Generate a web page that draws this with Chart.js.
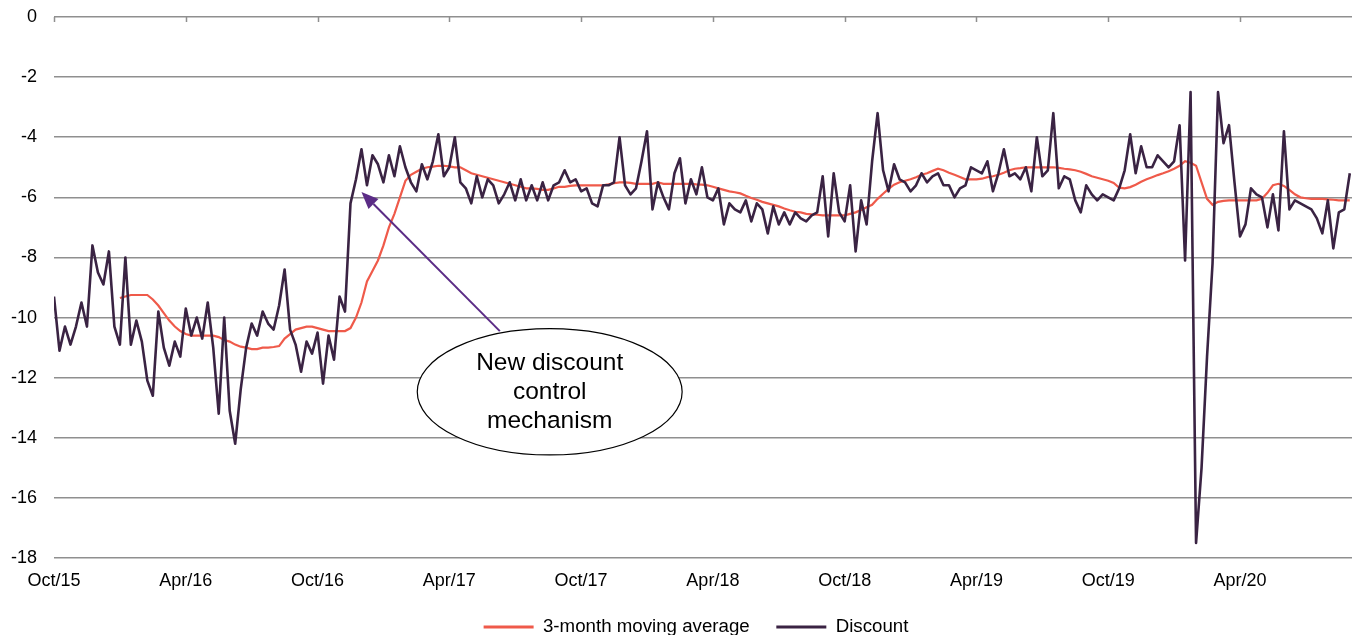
<!DOCTYPE html>
<html>
<head>
<meta charset="utf-8">
<script src="https://cdn.jsdelivr.net/npm/chart.js@4.4.0/dist/chart.umd.min.js"></script>
<style>
  html, body { margin: 0; padding: 0; background: #fff; overflow: hidden; }
  #wrap { width: 1353px; height: 650px; }
</style>
</head>
<body>
<div id="wrap"><canvas id="chart" width="1353" height="650"></canvas></div>
<script>
// tick labels every 6 months, starting Oct/15
const tickLabels = ["Oct/15", "Apr/16", "Oct/16", "Apr/17", "Oct/17", "Apr/18", "Oct/18", "Apr/19", "Oct/19", "Apr/20"];

// discount (%), roughly weekly readings, 4 per month from Oct 2015
const discount = [
  -9.3, -11.1, -10.3, -10.9,
  -10.3, -9.5, -10.3, -7.6,
  -8.5, -8.9, -7.8, -10.3,
  -10.9, -8.0, -10.9, -10.1,
  -10.8, -12.1, -12.6, -9.8,
  -11.0, -11.6, -10.8, -11.3,
  -9.7, -10.6, -10.0, -10.7,
  -9.5, -11.0, -13.2, -10.0,
  -13.1, -14.2, -12.4, -11.0,
  -10.2, -10.6, -9.8, -10.2,
  -10.4, -9.6, -8.4, -10.4,
  -10.9, -11.8, -10.8, -11.2,
  -10.5, -12.2, -10.6, -11.4,
  -9.3, -9.8, -6.2, -5.4,
  -4.4, -5.6, -4.6, -4.9,
  -5.5, -4.6, -5.3, -4.3,
  -5.0, -5.5, -5.8, -4.9,
  -5.4, -4.8, -3.9, -5.3,
  -5.0, -4.0, -5.5, -5.7,
  -6.2, -5.3, -6.0, -5.4,
  -5.6, -6.2, -5.9, -5.5,
  -6.1, -5.4, -6.1, -5.6,
  -6.1, -5.5, -6.1, -5.6,
  -5.5, -5.1, -5.5, -5.4,
  -5.8, -5.7, -6.2, -6.3,
  -5.6, -5.6, -5.5, -4.0,
  -5.6, -5.9, -5.7, -4.8,
  -3.8, -6.4, -5.5, -6.0,
  -6.4, -5.2, -4.7, -6.2,
  -5.4, -5.9, -5.0, -6.0,
  -6.1, -5.7, -6.9, -6.2,
  -6.4, -6.5, -6.1, -6.8,
  -6.2, -6.4, -7.2, -6.3,
  -6.9, -6.5, -6.9, -6.5,
  -6.7, -6.8, -6.6, -6.5,
  -5.3, -7.3, -5.2, -6.5,
  -6.8, -5.6, -7.8, -6.1,
  -6.9, -4.8, -3.2, -5.1,
  -5.8, -4.9, -5.4, -5.5,
  -5.8, -5.6, -5.2, -5.5,
  -5.3, -5.2, -5.6, -5.6,
  -6.0, -5.7, -5.6, -5.0,
  -5.1, -5.2, -4.8, -5.8,
  -5.2, -4.4, -5.3, -5.2,
  -5.4, -5.0, -5.8, -4.0,
  -5.3, -5.1, -3.2, -5.7,
  -5.3, -5.4, -6.1, -6.5,
  -5.6, -5.9, -6.1, -5.9,
  -6.0, -6.1, -5.7, -5.1,
  -3.9, -5.2, -4.3, -5.0,
  -5.0, -4.6, -4.8, -5.0,
  -4.8, -3.6, -8.1, -2.5,
  -17.5, -15.0, -11.3, -8.2,
  -2.5, -4.2, -3.6, -5.5,
  -7.3, -6.9, -5.7, -5.9,
  -6.0, -7.0, -5.9, -7.1,
  -3.8, -6.4, -6.1, -6.2,
  -6.3, -6.4, -6.7, -7.2,
  -6.1, -7.7, -6.5, -6.4,
  -5.2
];

// 3-month moving average, same sampling (starts after the first 3 months)
const movingAvg = [
  null, null, null, null,
  null, null, null, null,
  null, null, null, null,
  -9.35, -9.3, -9.25, -9.25,
  -9.25, -9.25, -9.4, -9.6,
  -9.85, -10.1, -10.3, -10.45,
  -10.55, -10.6, -10.6, -10.6,
  -10.6, -10.6, -10.65, -10.75,
  -10.8, -10.9, -10.97, -11.0,
  -11.05, -11.05, -11.0, -11.0,
  -10.98, -10.95, -10.7, -10.55,
  -10.4, -10.35, -10.3, -10.3,
  -10.35, -10.4, -10.45, -10.45,
  -10.45, -10.45, -10.35, -10.0,
  -9.5, -8.8, -8.45, -8.1,
  -7.6, -7.0, -6.55, -6.0,
  -5.45, -5.25, -5.15, -5.05,
  -5.0, -4.98, -4.95, -4.95,
  -4.97, -5.0, -5.0, -5.1,
  -5.2, -5.25, -5.3, -5.35,
  -5.4, -5.45, -5.5, -5.55,
  -5.6, -5.65, -5.7, -5.7,
  -5.72, -5.75, -5.75, -5.7,
  -5.65, -5.65, -5.62, -5.6,
  -5.6, -5.6, -5.6, -5.6,
  -5.6, -5.57, -5.53, -5.5,
  -5.5, -5.52, -5.55, -5.55,
  -5.55, -5.55, -5.5, -5.55,
  -5.55, -5.55, -5.55, -5.55,
  -5.55, -5.57, -5.58, -5.6,
  -5.65, -5.7, -5.75, -5.8,
  -5.83, -5.87, -5.95, -6.02,
  -6.08, -6.15, -6.2, -6.25,
  -6.3, -6.37, -6.43, -6.48,
  -6.5, -6.55, -6.57, -6.58,
  -6.6, -6.6, -6.6, -6.6,
  -6.6, -6.55, -6.5, -6.42,
  -6.33, -6.25, -6.05, -5.88,
  -5.72, -5.58, -5.5, -5.45,
  -5.4, -5.33, -5.25, -5.2,
  -5.12, -5.05, -5.1, -5.18,
  -5.25, -5.32, -5.4, -5.4,
  -5.4, -5.38, -5.33, -5.3,
  -5.25, -5.18, -5.1, -5.05,
  -5.03, -5.0, -5.0, -5.0,
  -5.0, -5.0, -5.0, -5.02,
  -5.05, -5.07, -5.1, -5.15,
  -5.22, -5.3, -5.35, -5.4,
  -5.45, -5.52, -5.68, -5.7,
  -5.66, -5.58, -5.48, -5.4,
  -5.33, -5.26, -5.2, -5.13,
  -5.05, -4.95, -4.8, -4.85,
  -4.95, -5.5, -6.05, -6.25,
  -6.15, -6.12, -6.1, -6.1,
  -6.1, -6.1, -6.1, -6.1,
  -6.05, -5.85, -5.6, -5.55,
  -5.62, -5.75, -5.9, -6.0,
  -6.03, -6.05, -6.05, -6.05,
  -6.07, -6.08, -6.1, -6.1,
  -6.1
];

const perMonth = 4;
const toPoints = arr => arr.map((v, i) => ({ x: i / perMonth, y: v }));

const FONT = "'Liberation Sans', Arial, sans-serif";
const GRID = "#8f8f8f";

// small tick marks hanging from the top (0) line, plus the callout
const extras = {
  id: "extras",
  afterLayout(chart) {
    // nudge the legend row to sit where the reference has it
    if (chart.legend) {
      chart.legend.left += 20;
      chart.legend.right += 20;
    }
  },
  beforeDatasetsDraw(chart) {
    const { ctx, scales: { x }, chartArea } = chart;
    ctx.save();
    ctx.strokeStyle = GRID;
    ctx.lineWidth = 1.5;
    x.ticks.forEach(t => {
      if (t.value % 6 !== 0) return;
      const px = Math.round(x.getPixelForValue(t.value)) + 0.5;
      ctx.beginPath();
      ctx.moveTo(px, chartArea.top);
      ctx.lineTo(px, chartArea.top + 5);
      ctx.stroke();
    });
    ctx.restore();
  },
  afterDatasetsDraw(chart) {
    const { ctx, scales: { x, y } } = chart;
    const tipX = x.getPixelForValue(14.0), tipY = y.getPixelForValue(-5.82);
    const tailX = x.getPixelForValue(20.3), tailY = y.getPixelForValue(-10.45);
    const cx = x.getPixelForValue(22.57), cy = y.getPixelForValue(-12.47);
    const rx = x.getPixelForValue(22.57 + 6.03) - cx;
    const ry = y.getPixelForValue(-12.47 - 2.1) - cy;

    ctx.save();
    // arrow
    const col = "#5b2c86";
    const ang = Math.atan2(tipY - tailY, tipX - tailX);
    const headLen = 17, headW = 7;
    const bx = tipX - Math.cos(ang) * headLen, by = tipY - Math.sin(ang) * headLen;
    ctx.strokeStyle = col;
    ctx.lineWidth = 2;
    ctx.beginPath();
    ctx.moveTo(tailX, tailY);
    ctx.lineTo(bx, by);
    ctx.stroke();
    ctx.fillStyle = col;
    ctx.beginPath();
    ctx.moveTo(tipX, tipY);
    ctx.lineTo(bx + Math.sin(ang) * headW, by - Math.cos(ang) * headW);
    ctx.lineTo(bx - Math.sin(ang) * headW, by + Math.cos(ang) * headW);
    ctx.closePath();
    ctx.fill();

    // ellipse
    ctx.beginPath();
    ctx.ellipse(cx, cy, rx, ry, 0, 0, Math.PI * 2);
    ctx.fillStyle = "#ffffff";
    ctx.fill();
    ctx.strokeStyle = "#000000";
    ctx.lineWidth = 1.2;
    ctx.stroke();

    ctx.fillStyle = "#000000";
    ctx.font = "24.5px " + FONT;
    ctx.textAlign = "center";
    ctx.textBaseline = "middle";
    ["New discount", "control", "mechanism"].forEach((s, i) => {
      ctx.fillText(s, cx, cy + (i - 1) * 29);
    });
    ctx.restore();
  }
};

new Chart(document.getElementById("chart"), {
  type: "line",
  data: {
    datasets: [
      {
        label: "3-month moving average",
        data: toPoints(movingAvg),
        borderColor: "#ef5a4a",
        backgroundColor: "#ef5a4a",
        borderWidth: 2.2,
        pointRadius: 0,
        tension: 0,
        spanGaps: false,
        order: 2
      },
      {
        label: "Discount",
        data: toPoints(discount),
        borderColor: "#3a2343",
        backgroundColor: "#3a2343",
        borderWidth: 2.6,
        borderJoinStyle: "round",
        pointRadius: 0,
        tension: 0,
        order: 1
      }
    ]
  },
  options: {
    responsive: false,
    animation: false,
    layout: { padding: { top: 17, right: 1, bottom: 3.65, left: 0 } },
    plugins: {
      tooltip: { enabled: false },
      legend: {
        position: "bottom",
        labels: {
          boxWidth: 50,
          boxHeight: 3,
          padding: 26.65,
          color: "#000",
          font: { family: FONT, size: 18.7 },
          sort: (a, b) => a.datasetIndex - b.datasetIndex,
          generateLabels(chart) {
            return Chart.defaults.plugins.legend.labels.generateLabels(chart).map(it => ({ ...it, lineWidth: 0 }));
          }
        }
      }
    },
    scales: {
      x: {
        type: "linear",
        min: 0,
        max: 59.1,
        afterFit: s => { s.height = 33; },
        grid: { display: false, drawTicks: false },
        border: { display: false },
        ticks: {
          stepSize: 6,
          includeBounds: false,
          autoSkip: false,
          maxRotation: 0,
          padding: 14,
          color: "#000",
          font: { family: FONT, size: 18, lineHeight: 1 },
          callback: v => (v % 6 === 0 ? (tickLabels[v / 6] ?? "") : "")
        }
      },
      y: {
        min: -18,
        max: 0,
        afterFit: s => { s.width = 54; s.paddingTop = 0; s.paddingBottom = 0; },
        grid: { color: GRID, lineWidth: 1.5, drawTicks: false },
        border: { display: false },
        ticks: {
          stepSize: 2,
          padding: 17,
          color: "#000",
          font: { family: FONT, size: 18 }
        }
      }
    }
  },
  plugins: [extras]
});
</script>
</body>
</html>
